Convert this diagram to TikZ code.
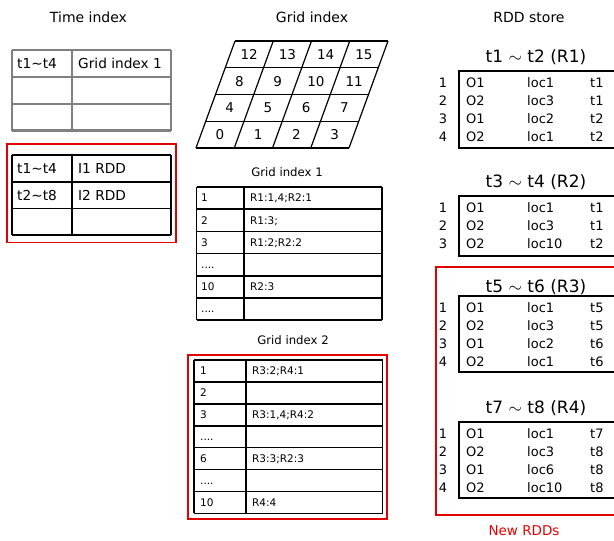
\documentclass[tikz,border=0pt]{standalone}
\usepackage{fontspec}
\setmainfont{DejaVu Sans}
\newcommand{\tl}{\textasciitilde}
\newcommand{\fourdots}{.\kern0pt.\kern0pt.\kern0pt.}
\definecolor{refred}{RGB}{226,0,0}
\definecolor{refgray}{RGB}{128,128,128}
\begin{document}
\begin{tikzpicture}[x=1pt,y=-1pt,
  title/.style={font=\fontsize{14}{16}\selectfont,inner sep=0pt},
  subtitle/.style={font=\fontsize{11.7}{13}\selectfont,inner sep=0pt},
  rddtitle/.style={font=\fontsize{17}{19}\selectfont,inner sep=0pt},
  bigcell/.style={font=\fontsize{13.7}{15}\selectfont,inner sep=0pt,anchor=base west},
  smallcell/.style={font=\fontsize{10.5}{12}\selectfont,inner sep=0pt,anchor=base west},
  rddcell/.style={font=\fontsize{13}{15}\selectfont,inner sep=0pt,anchor=base west},
  rownum/.style={font=\fontsize{13}{15}\selectfont,inner sep=0pt,anchor=base},
  gridnum/.style={font=\fontsize{13.5}{15}\selectfont,inner sep=0pt},
  graytab/.style={draw=refgray,line width=2.2pt},
  blacktab/.style={draw=black,line width=1.6pt},
  gridline/.style={draw=black,line width=1.2pt},
  redbox/.style={draw=refred,line width=1.5pt},
  newrdd/.style={font=\fontsize{13.5}{15}\selectfont,inner sep=0pt,text=refred}
]
\useasboundingbox (0,0) rectangle (614,541);

% ---------------- Time index ----------------
\node[title] (ttime) at (88.5,17) {Time index};
\foreach \y in {50,77,104,130.5} \draw[graytab] (12,\y) -- (171,\y);
\foreach \x in {12,72,171} \draw[graytab] (\x,50) -- (\x,130.5);
\node[bigcell] (ta1) at (17,68.5) {t1\tl t4};
\node[bigcell] (ta2) at (78,68.5) {Grid index 1};

\draw[redbox] (7,144) rectangle (176,242.5);
\foreach \y in {155,181.7,208.3,235} \draw[blacktab] (12,\y) -- (171,\y);
\foreach \x in {12,72,171} \draw[blacktab] (\x,155) -- (\x,235);
\node[bigcell] (tb1) at (17,173.3) {t1\tl t4};
\node[bigcell] (tb2) at (78,173.3) {I1 RDD};
\node[bigcell] (tb3) at (17,200) {t2\tl t8};
\node[bigcell] (tb4) at (78,200) {I2 RDD};

% ---------------- Grid index ----------------
\node[title] (tgrid) at (312,17) {Grid index};
\foreach \r in {0,1,2,3,4}
  \draw[gridline] (196+\r*9.75,148-\r*26.75) -- (196+153+\r*9.75,148-\r*26.75);
\foreach \c in {0,1,2,3,4}
  \draw[gridline] (196+\c*38.25,148) -- (196+39+\c*38.25,41);
\foreach \r in {0,1,2,3}
  \foreach \c in {0,1,2,3}{
    \pgfmathtruncatemacro{\n}{4*\r+\c}
    \node[gridnum] (g\n) at (196+\c*38.25+19.1+\r*9.75+4.9,148-\r*26.75-13.4) {\n};
  }

% ---------------- Grid index 1 ----------------
\node[subtitle] (tgi1) at (287,172) {Grid index 1};
\foreach \k in {0,1,2,3,4,5,6} \draw[blacktab] (196.5,187+\k*22.2) -- (382,187+\k*22.2);
\foreach \x in {196.5,244,382} \draw[blacktab] (\x,187) -- (\x,320.2);
\foreach \k/\a/\b in {0/1/{R1:1,4;R2:1},1/2/{R1:3;},2/3/{R1:2;R2:2},3/\fourdots/{},4/10/{R2:3},5/\fourdots/{}}{
  \node[smallcell] (gi1a\k) at (201,201.9+\k*22.2) {\a};
  \node[smallcell] (gi1b\k) at (250,201.9+\k*22.2) {\b};
}

% ---------------- Grid index 2 ----------------
\node[subtitle] (tgi2) at (293,340) {Grid index 2};
\draw[redbox] (188,355) rectangle (387,519);
\foreach \k in {0,1,2,3,4,5,6,7} \draw[blacktab] (194,360+\k*21.9) -- (382.5,360+\k*21.9);
\foreach \x in {194,246,382.5} \draw[blacktab] (\x,360) -- (\x,513.3);
\foreach \k/\a/\b in {0/1/{R3:2;R4:1},1/2/{},2/3/{R3:1,4;R4:2},3/\fourdots/{},4/6/{R3:3;R2:3},5/\fourdots/{},6/10/{R4:4}}{
  \node[smallcell] (gi2a\k) at (200,374.8+\k*21.9) {\a};
  \node[smallcell] (gi2b\k) at (252,374.8+\k*21.9) {\b};
}

% ---------------- RDD store ----------------
\node[title] (trdd) at (529,17) {RDD store};

% R1
\node[rddtitle] (tr1) at (536,57) {t1 $\sim$ t2 (R1)};
\draw[blacktab] (615,71) -- (459,71) -- (459,148) -- (615,148);
\foreach \k/\o/\l/\t in {0/O1/loc1/t1,1/O2/loc3/t1,2/O1/loc2/t2,3/O2/loc1/t2}{
  \pgfmathtruncatemacro{\m}{\k+1}
  \node[rownum] (r1n\k) at (443,87.7+\k*18) {\m};
  \node[rddcell] (r1o\k) at (466,87.7+\k*18) {\o};
  \node[rddcell] (r1l\k) at (527,87.7+\k*18) {\l};
  \node[rddcell] (r1t\k) at (590,87.7+\k*18) {\t};
}

% R2
\node[rddtitle] (tr2) at (536,182) {t3 $\sim$ t4 (R2)};
\draw[blacktab] (615,196) -- (459,196) -- (459,256) -- (615,256);
\foreach \k/\o/\l/\t in {0/O1/loc1/t1,1/O2/loc3/t1,2/O2/loc10/t2}{
  \pgfmathtruncatemacro{\m}{\k+1}
  \node[rownum] (r2n\k) at (443,212.7+\k*18) {\m};
  \node[rddcell] (r2o\k) at (466,212.7+\k*18) {\o};
  \node[rddcell] (r2l\k) at (527,212.7+\k*18) {\l};
  \node[rddcell] (r2t\k) at (590,212.7+\k*18) {\t};
}

% New RDDs box
\draw[redbox] (616,267) -- (436,267) -- (436,515) -- (616,515);
\node[newrdd] (tnew) at (524,531) {New RDDs};

% R3
\node[rddtitle] (tr3) at (536,287) {t5 $\sim$ t6 (R3)};
\draw[blacktab] (615,296) -- (459,296) -- (459,372) -- (615,372);
\foreach \k/\o/\l/\t in {0/O1/loc1/t5,1/O2/loc3/t5,2/O1/loc2/t6,3/O2/loc1/t6}{
  \pgfmathtruncatemacro{\m}{\k+1}
  \node[rownum] (r3n\k) at (443,312.7+\k*18) {\m};
  \node[rddcell] (r3o\k) at (466,312.7+\k*18) {\o};
  \node[rddcell] (r3l\k) at (527,312.7+\k*18) {\l};
  \node[rddcell] (r3t\k) at (590,312.7+\k*18) {\t};
}

% R4
\node[rddtitle] (tr4) at (536,408) {t7 $\sim$ t8 (R4)};
\draw[blacktab] (615,422) -- (459,422) -- (459,498) -- (615,498);
\foreach \k/\o/\l/\t in {0/O1/loc1/t7,1/O2/loc3/t8,2/O1/loc6/t8,3/O2/loc10/t8}{
  \pgfmathtruncatemacro{\m}{\k+1}
  \node[rownum] (r4n\k) at (443,438.7+\k*18) {\m};
  \node[rddcell] (r4o\k) at (466,438.7+\k*18) {\o};
  \node[rddcell] (r4l\k) at (527,438.7+\k*18) {\l};
  \node[rddcell] (r4t\k) at (590,438.7+\k*18) {\t};
}
\end{tikzpicture}
\end{document}
